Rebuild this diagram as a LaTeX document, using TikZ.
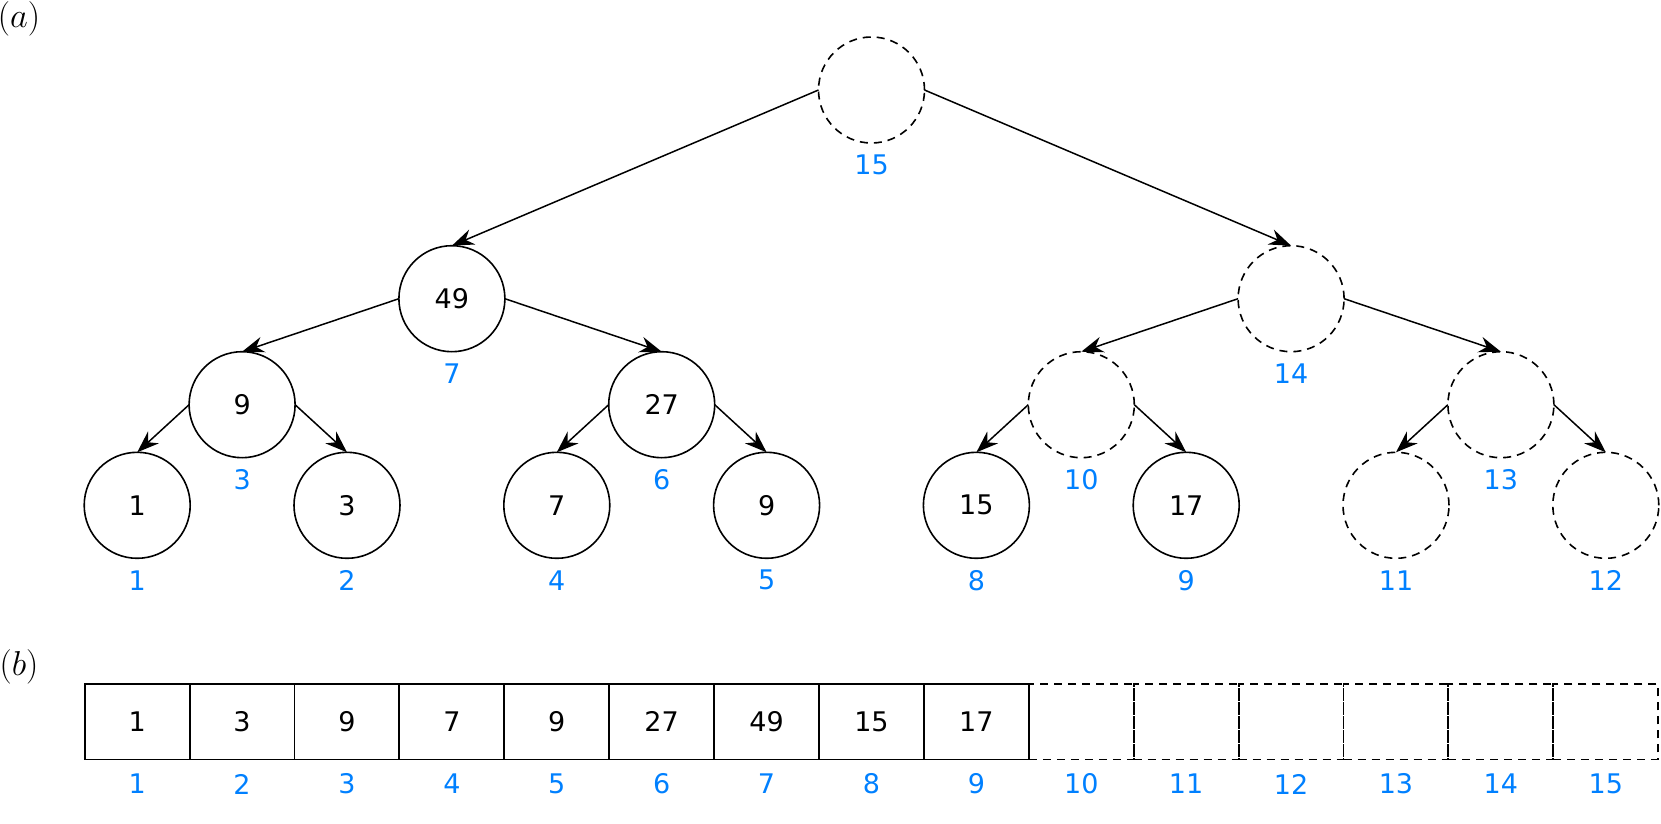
\documentclass[tikz,border=0pt]{standalone}
\usepackage{fontspec}
\setmainfont{DejaVu Sans}
\usetikzlibrary{arrows.meta}
\definecolor{idxblue}{RGB}{0,128,255}
\begin{document}
\begin{tikzpicture}[x=0.5pt,y=-0.5pt,
  font=\fontsize{13.5}{16}\selectfont,
  vtx/.style={circle,draw,line width=0.8pt,minimum size=53pt,inner sep=0pt,outer sep=0pt},
  gone/.style={vtx,dash pattern=on 4pt off 3pt},
  cell/.style={rectangle,draw,line width=0.95pt,minimum width=52.45pt,minimum height=37.6pt,inner sep=0pt,outer sep=0pt},
  gcell/.style={cell,dash pattern=on 4pt off 3pt},
  idx/.style={text=idxblue,inner sep=0pt},
  edge/.style={-{Stealth[length=11pt,width=8pt]},line width=0.75pt},
  tag/.style={font=\fontsize{16}{18}\selectfont,inner sep=0pt}]
\useasboundingbox (0,0) rectangle (1661,824);

\node[tag] (ta) at (19,19) {$(a)$};
\node[tag] (tb) at (19,667) {$(b)$};

% tree
\node[gone] (n15) at (871.5,90) {};
\node[vtx]  (n7)  at (451.9,298.7) {49};
\node[gone] (n14) at (1291.1,298.7) {};
\node[vtx]  (n3)  at (242.1,404.7) {9};
\node[vtx]  (n6)  at (661.7,404.7) {27};
\node[gone] (n10) at (1081.3,404.7) {};
\node[gone] (n13) at (1500.9,404.7) {};
\node[vtx]  (n1)  at (137.2,505.3) {1};
\node[vtx]  (n2)  at (347.0,505.3) {3};
\node[vtx]  (n4)  at (556.8,505.3) {7};
\node[vtx]  (n5)  at (766.6,505.3) {9};
\node[vtx]  (n8)  at (976.4,505.3) {15};
\node[vtx]  (n9)  at (1186.2,505.3) {17};
\node[gone] (n11) at (1396.0,505.3) {};
\node[gone] (n12) at (1605.8,505.3) {};

\node[idx] (i15) at (871.5,165) {15};
\node[idx] (i7)  at (451.9,373.7) {7};
\node[idx] (i14) at (1291.1,373.7) {14};
\node[idx] (i3)  at (242.1,479.7) {3};
\node[idx] (i6)  at (661.7,479.7) {6};
\node[idx] (i10) at (1081.3,479.7) {10};
\node[idx] (i13) at (1500.9,479.7) {13};
\node[idx] (i1)  at (137.2,580.3) {1};
\node[idx] (i2)  at (347.0,580.3) {2};
\node[idx] (i4)  at (556.8,580.3) {4};
\node[idx] (i5)  at (766.6,580.3) {5};
\node[idx] (i8)  at (976.4,580.3) {8};
\node[idx] (i9)  at (1186.2,580.3) {9};
\node[idx] (i11) at (1396.0,580.3) {11};
\node[idx] (i12) at (1605.8,580.3) {12};

\draw[edge] (n15.west) -- (n7.north);
\draw[edge] (n15.east) -- (n14.north);
\draw[edge] (n7.west) -- (n3.north);
\draw[edge] (n7.east) -- (n6.north);
\draw[edge] (n14.west) -- (n10.north);
\draw[edge] (n14.east) -- (n13.north);
\draw[edge] (n3.west) -- (n1.north);
\draw[edge] (n3.east) -- (n2.north);
\draw[edge] (n6.west) -- (n4.north);
\draw[edge] (n6.east) -- (n5.north);
\draw[edge] (n10.west) -- (n8.north);
\draw[edge] (n10.east) -- (n9.north);
\draw[edge] (n13.west) -- (n11.north);
\draw[edge] (n13.east) -- (n12.north);

% array
\node[gcell] (c10) at (1081.25,721.9) {};
\node[gcell] (c11) at (1186.15,721.9) {};
\node[gcell] (c12) at (1291.05,721.9) {};
\node[gcell] (c13) at (1395.95,721.9) {};
\node[gcell] (c14) at (1500.85,721.9) {};
\node[gcell] (c15) at (1605.75,721.9) {};
\node[cell] (c1) at (137.15,721.9) {1};
\node[cell] (c2) at (242.05,721.9) {3};
\node[cell] (c3) at (346.95,721.9) {9};
\node[cell] (c4) at (451.85,721.9) {7};
\node[cell] (c5) at (556.75,721.9) {9};
\node[cell] (c6) at (661.65,721.9) {27};
\node[cell] (c7) at (766.55,721.9) {49};
\node[cell] (c8) at (871.45,721.9) {15};
\node[cell] (c9) at (976.35,721.9) {17};

\node[idx] (a1)  at (137.15,784) {1};
\node[idx] (a2)  at (242.05,784) {2};
\node[idx] (a3)  at (346.95,784) {3};
\node[idx] (a4)  at (451.85,784) {4};
\node[idx] (a5)  at (556.75,784) {5};
\node[idx] (a6)  at (661.65,784) {6};
\node[idx] (a7)  at (766.55,784) {7};
\node[idx] (a8)  at (871.45,784) {8};
\node[idx] (a9)  at (976.35,784) {9};
\node[idx] (a10) at (1081.25,784) {10};
\node[idx] (a11) at (1186.15,784) {11};
\node[idx] (a12) at (1291.05,784) {12};
\node[idx] (a13) at (1395.95,784) {13};
\node[idx] (a14) at (1500.85,784) {14};
\node[idx] (a15) at (1605.75,784) {15};
\end{tikzpicture}
\end{document}
